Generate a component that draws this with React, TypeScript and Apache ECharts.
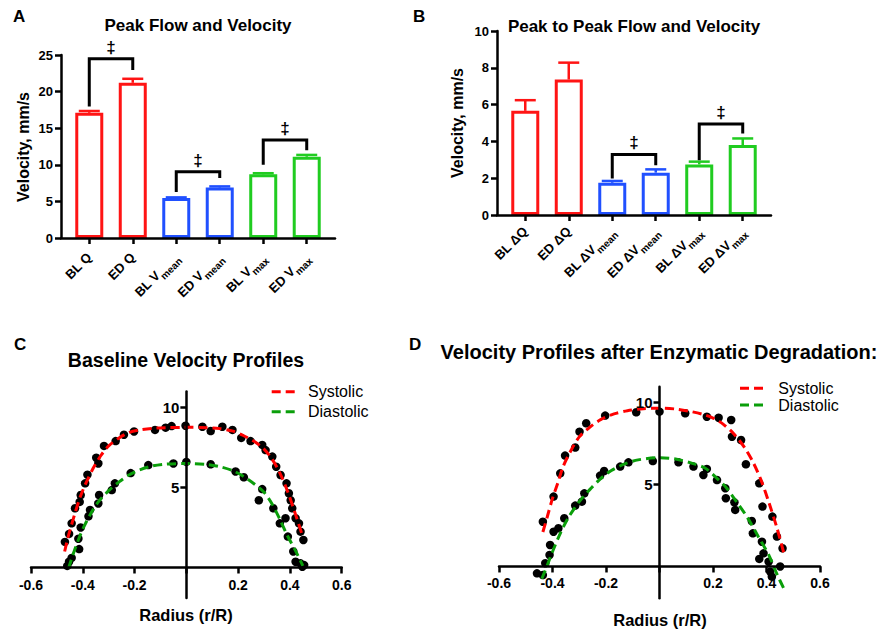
import React, { useEffect, useRef } from "react";
import * as echarts from "echarts";

const FONT = '"Liberation Sans", Arial, Helvetica, sans-serif';

// ---------- Panel A ----------
const catMainA = ["BL Q", "ED Q", "BL V", "ED V", "BL V", "ED V"];
const catSubA = ["", "", "mean", "mean", "max", "max"];
const valuesA = [17.1, 21.2, 5.45, 6.9, 8.7, 11.1];
const errTopA = [17.35, 21.75, 5.55, 7.05, 8.85, 11.35];
const bracketLeftA = [0, 2, 4];
const bracketRightA = [1, 3, 5];
const bracketLegLA = [17.96, 6.3, 10.0];
const bracketLegRA = [22.95, 8.2, 12.0];
const bracketTopA = [24.5, 9.06, 13.4];

// ---------- Panel B ----------
const catMainB = ["BL ΔQ", "ED ΔQ", "BL ΔV", "ED ΔV", "BL ΔV", "ED ΔV"];
const catSubB = ["", "", "mean", "mean", "max", "max"];
const valuesB = [5.66, 7.36, 1.75, 2.3, 2.75, 3.8];
const errTopB = [6.24, 8.28, 1.85, 2.48, 2.9, 4.16];
const bracketLeftB = [2, 4];
const bracketRightB = [3, 5];
const bracketLegLB = [1.99, 2.98];
const bracketLegRB = [2.71, 4.43];
const bracketTopB = [3.29, 4.94];

// ---------- Panel C (baseline profiles) ----------
const pointsCSys = [
  [-0.469, 1.6], [-0.453, 2.1], [-0.443, 2.76], [-0.43, 3.7], [-0.412, 4.1], [-0.408, 4.53],
  [-0.391, 5.26], [-0.382, 5.8], [-0.348, 6.86], [-0.34, 6.5], [-0.318, 7.6], [-0.273, 7.9],
  [-0.241, 8.3], [-0.202, 8.5], [-0.121, 8.6], [-0.08, 8.74], [-0.057, 8.84], [-0.003, 8.86],
  [0.062, 8.8], [0.094, 8.53], [0.139, 8.8], [0.178, 8.6], [0.212, 8.1], [0.248, 7.9],
  [0.293, 7.66], [0.306, 7.34], [0.332, 6.93], [0.347, 6.3], [0.364, 5.78], [0.387, 5.26],
  [0.396, 4.64], [0.403, 4.2], [0.409, 3.7], [0.422, 3.08], [0.435, 2.76], [0.441, 2.24], [0.452, 1.72],
];
const pointsCDia = [
  [-0.46, 0.1], [-0.453, 0.36], [-0.443, 0.6], [-0.414, 1.15], [-0.417, 1.8], [-0.408, 2.5],
  [-0.378, 3.2], [-0.372, 3.6], [-0.34, 4.0], [-0.337, 4.53], [-0.288, 4.84], [-0.276, 5.26],
  [-0.215, 5.9], [-0.147, 6.4], [-0.05, 6.5], [0.0, 6.6], [0.094, 6.45], [0.19, 6.0], [0.222, 5.64],
  [0.293, 4.9], [0.28, 4.2], [0.336, 3.7], [0.361, 2.76], [0.383, 3.08], [0.392, 1.93],
  [0.413, 1.0], [0.422, 0.36], [0.441, 0.26], [0.448, 0.05], [0.455, 0.15],
];
const fitCSys = [
  [-0.47, 1.0], [-0.46, 1.7], [-0.45, 2.3], [-0.43, 3.4], [-0.41, 4.4], [-0.39, 5.2], [-0.36, 6.2],
  [-0.33, 7.0], [-0.3, 7.6], [-0.26, 8.1], [-0.22, 8.45], [-0.18, 8.6], [-0.13, 8.7], [-0.08, 8.74],
  [0, 8.76], [0.08, 8.74], [0.13, 8.68], [0.18, 8.52], [0.22, 8.25], [0.26, 7.9], [0.3, 7.4],
  [0.33, 6.8], [0.36, 5.95], [0.39, 4.8], [0.42, 3.4], [0.45, 1.9],
];
const fitCDia = [
  [-0.455, -0.05], [-0.44, 0.7], [-0.42, 1.6], [-0.4, 2.4], [-0.37, 3.35], [-0.34, 4.1], [-0.3, 4.8],
  [-0.26, 5.35], [-0.22, 5.8], [-0.18, 6.1], [-0.13, 6.35], [-0.08, 6.46], [0, 6.5], [0.08, 6.44],
  [0.13, 6.3], [0.18, 6.05], [0.22, 5.7], [0.26, 5.25], [0.3, 4.7], [0.33, 4.0], [0.36, 3.05],
  [0.39, 2.0], [0.42, 1.1], [0.45, 0.1],
];

// ---------- Panel D (after enzymatic degradation) ----------
const pointsDSys = [
  [-0.436, 2.73], [-0.396, 4.26], [-0.371, 5.68], [-0.353, 6.76], [-0.315, 7.25], [-0.299, 8.22],
  [-0.274, 8.73], [-0.203, 9.2], [-0.087, 9.4], [0, 9.44], [0.096, 9.34], [0.177, 9.13],
  [0.221, 9.07], [0.268, 8.93], [0.271, 7.91], [0.305, 7.71], [0.323, 6.23], [0.373, 5.07],
  [0.385, 3.65], [0.422, 3.04], [0.439, 1.82], [0.46, 1.11],
];
const pointsDDia = [
  [-0.458, -0.42], [-0.436, -0.52], [-0.427, 0.2], [-0.411, 0.7], [-0.409, 1.31], [-0.396, 2.12],
  [-0.378, 2.33], [-0.356, 2.94], [-0.315, 3.71], [-0.29, 3.95], [-0.281, 4.46], [-0.222, 5.54],
  [-0.207, 5.82], [-0.147, 6.09], [-0.116, 6.35], [-0.025, 6.43], [0.071, 6.35], [0.127, 6.09],
  [0.177, 5.95], [0.164, 5.58], [0.215, 5.27], [0.246, 4.77], [0.248, 4.16], [0.28, 3.91],
  [0.283, 3.45], [0.345, 2.77], [0.349, 2.02], [0.383, 1.51], [0.389, 0.8], [0.373, 0.46],
  [0.408, 0.29], [0.414, -0.32], [0.42, -0.62], [0.451, 0.0],
];
const fitDSys = [
  [-0.436, 2.1], [-0.42, 3.0], [-0.4, 4.15], [-0.38, 5.1], [-0.36, 6.1], [-0.33, 7.1], [-0.3, 7.9],
  [-0.26, 8.5], [-0.22, 8.95], [-0.17, 9.3], [-0.12, 9.5], [-0.06, 9.62], [0, 9.65], [0.06, 9.6],
  [0.11, 9.47], [0.16, 9.28], [0.2, 9.05], [0.24, 8.65], [0.28, 8.05], [0.32, 7.2], [0.35, 6.35],
  [0.38, 5.25], [0.41, 3.85], [0.44, 2.3], [0.465, 0.8],
];
const fitDDia = [
  [-0.44, -0.75], [-0.42, 0.05], [-0.4, 0.9], [-0.37, 2.05], [-0.34, 3.0], [-0.3, 3.95], [-0.26, 4.7],
  [-0.22, 5.35], [-0.18, 5.85], [-0.13, 6.25], [-0.08, 6.5], [0, 6.63], [0.06, 6.55], [0.12, 6.3],
  [0.17, 6.0], [0.21, 5.45], [0.25, 4.8], [0.29, 3.9], [0.33, 2.95], [0.37, 1.8], [0.41, 0.65],
  [0.44, -0.5], [0.465, -1.35],
];

// ---------- styles ----------
const RED = "#ff1414";
const BLUE = "#2050ff";
const GREEN = "#20cc20";
const FIT_RED = "#ff0000";
const FIT_GREEN = "#0a9e0a";
const DASH = [9, 5];
const barColors = [RED, RED, BLUE, BLUE, GREEN, GREEN];

type Grid = { left: number; top: number; width: number; height: number };
const gridA: Grid = { left: 61, top: 55, width: 274, height: 183 };
const gridB: Grid = { left: 497, top: 31, width: 274, height: 184 };
const gridC: Grid = { left: 31, top: 391.5, width: 310.7, height: 206.4 };
const gridD: Grid = { left: 499, top: 386.7, width: 321, height: 211.6 };

function barPanel(idx: number, main: string[], sub: string[], yMax: number, yInt: number, labelMargin: number, values: number[], errTop: number[], bL: number[], bR: number[], legL: number[], legR: number[], top: number[]) {
  const xAxis = {
    gridIndex: idx,
    type: "value",
    min: -0.65,
    max: 5.65,
    z: 5,
    axisLine: { show: true, onZero: false, lineStyle: { color: "#000", width: 2.5 } },
    axisTick: { show: true, customValues: [0, 1, 2, 3, 4, 5], length: 6, lineStyle: { color: "#000", width: 2.5 } },
    splitLine: { show: false },
    axisLabel: {
      customValues: [0, 1, 2, 3, 4, 5],
      rotate: 45,
      margin: labelMargin,
      formatter: (v: number) => {
        const i = Math.round(v);
        return sub[i] ? `{m|${main[i]}}{s|${sub[i]}}` : `{m|${main[i]}}`;
      },
      rich: {
        m: { fontSize: 13, fontWeight: "bold", fontFamily: FONT, color: "#000", lineHeight: 16 },
        s: { fontSize: 10, fontWeight: "bold", fontFamily: FONT, color: "#000", verticalAlign: "bottom", lineHeight: 22 },
      },
    },
  };
  const yAxis = {
    gridIndex: idx,
    type: "value",
    min: 0,
    max: yMax,
    interval: yInt,
    z: 5,
    axisLine: { show: true, onZero: false, lineStyle: { color: "#000", width: 2.5 } },
    axisTick: { show: true, length: 6, lineStyle: { color: "#000", width: 2.5 } },
    splitLine: { show: false },
    axisLabel: { fontSize: 13, fontWeight: "bold", fontFamily: FONT, color: "#000", margin: 8 },
  };
  const series = [
    {
      type: "bar",
      xAxisIndex: idx,
      yAxisIndex: idx,
      barWidth: 28,
      z: 2,
      data: values.map((v, i) => ({ value: [i, v], itemStyle: { color: "#fff", borderColor: barColors[i], borderWidth: 3 } })),
    },
    {
      type: "custom",
      xAxisIndex: idx,
      yAxisIndex: idx,
      z: 3,
      data: values.map((v, i) => [i, v, errTop[i]]),
      renderItem: (params: any, api: any) => {
        const i = params.dataIndex;
        const x = api.value(0);
        const p0 = api.coord([x, api.value(1)]);
        const p1 = api.coord([x, api.value(2)]);
        const st = () => ({ stroke: barColors[i], lineWidth: 2.5 });
        return {
          type: "group",
          children: [
            { type: "line", shape: { x1: p0[0], y1: p0[1], x2: p1[0], y2: p1[1] }, style: st() },
            { type: "line", shape: { x1: p1[0] - 10.5, y1: p1[1], x2: p1[0] + 10.5, y2: p1[1] }, style: st() },
          ],
        };
      },
    },
    {
      type: "custom",
      xAxisIndex: idx,
      yAxisIndex: idx,
      z: 4,
      data: bL.map((l, k) => [l, bR[k], legL[k], legR[k], top[k]]),
      renderItem: (params: any, api: any) => {
        const a = api.coord([api.value(0), api.value(2)]);
        const b = api.coord([api.value(0), api.value(4)]);
        const c = api.coord([api.value(1), api.value(4)]);
        const d = api.coord([api.value(1), api.value(3)]);
        return {
          type: "group",
          children: [
            { type: "polyline", shape: { points: [a, b, c, d] }, style: { stroke: "#000", lineWidth: 3, fill: null, lineJoin: "miter" } },
            {
              type: "text",
              x: (b[0] + c[0]) / 2,
              y: b[1] - 3,
              style: { text: "‡", fontSize: 17, fontWeight: "bold", fontFamily: FONT, fill: "#000", textAlign: "center", textVerticalAlign: "bottom" },
            },
          ],
        };
      },
    },
  ];
  return { xAxis, yAxis, series };
}

function profilePanel(idx: number, g: Grid, yMin: number, yMax: number, ptsSys: number[][], ptsDia: number[][], fitSys: number[][], fitDia: number[][]) {
  const xMin = -0.6;
  const xMax = 0.6;
  // move each axis onto the other axis' zero (line, ticks and labels together)
  const xOffset = -g.height * (0 - yMin) / (yMax - yMin);
  const yOffset = -g.width * (0 - xMin) / (xMax - xMin);
  const xAxis = {
    gridIndex: idx,
    type: "value",
    min: xMin,
    max: xMax,
    position: "bottom",
    offset: xOffset,
    z: 5,
    axisLine: { show: true, onZero: false, lineStyle: { color: "#000", width: 2.5 } },
    axisTick: { show: true, customValues: [-0.6, -0.4, -0.2, 0, 0.2, 0.4, 0.6], length: 6, lineStyle: { color: "#000", width: 2.5 } },
    splitLine: { show: false },
    axisLabel: {
      customValues: [-0.6, -0.4, -0.2, 0.2, 0.4, 0.6],
      formatter: (v: number) => v.toFixed(1),
      fontSize: 14,
      fontWeight: "bold",
      fontFamily: FONT,
      color: "#000",
      margin: 10,
    },
  };
  const yAxis = {
    gridIndex: idx,
    type: "value",
    min: yMin,
    max: yMax,
    position: "left",
    offset: yOffset,
    z: 5,
    axisLine: { show: true, onZero: false, lineStyle: { color: "#000", width: 2.5 } },
    axisTick: { show: true, customValues: [5, 10], length: 6, lineStyle: { color: "#000", width: 2.5 } },
    splitLine: { show: false },
    axisLabel: { customValues: [5, 10], fontSize: 15, fontWeight: "bold", fontFamily: FONT, color: "#000", margin: 7 },
  };
  const dots = (data: number[][]) => ({
    type: "scatter",
    xAxisIndex: idx,
    yAxisIndex: idx,
    symbol: "circle",
    symbolSize: 8.5,
    z: 2,
    itemStyle: { color: "#000", opacity: 1 },
    data,
  });
  const fit = (name: string, data: number[][], color: string) => ({
    type: "line",
    name,
    xAxisIndex: idx,
    yAxisIndex: idx,
    smooth: 0.3,
    symbol: "none",
    z: 3,
    lineStyle: { color, width: 3, type: DASH },
    itemStyle: { color },
    data,
  });
  return {
    xAxis,
    yAxis,
    series: [dots(ptsSys), dots(ptsDia), fit("Systolic", fitSys, FIT_RED), fit("Diastolic", fitDia, FIT_GREEN)],
  };
}

const txt = (text: string, x: number, y: number, size: number, align = "center", bold = true, rotation = 0) => ({
  type: "text",
  x,
  y,
  rotation,
  style: {
    text,
    fontSize: size,
    fontWeight: bold ? "bold" : "normal",
    fontFamily: FONT,
    fill: "#000",
    textAlign: align,
    textVerticalAlign: "middle",
  },
});

const legendKey = (x1: number, x2: number, y: number, color: string) => ({
  type: "line",
  shape: { x1, y1: y, x2, y2: y },
  style: { stroke: color, lineWidth: 3, lineDash: DASH },
});

export default function App() {
  const ref = useRef<HTMLDivElement>(null);
  useEffect(() => {
    if (!ref.current) return;
    const chart = echarts.init(ref.current, undefined, { renderer: "svg" });
    const A = barPanel(0, catMainA, catSubA, 25, 5, 17, valuesA, errTopA, bracketLeftA, bracketRightA, bracketLegLA, bracketLegRA, bracketTopA);
    const B = barPanel(1, catMainB, catSubB, 10, 2, 14, valuesB, errTopB, bracketLeftB, bracketRightB, bracketLegLB, bracketLegRB, bracketTopB);
    const C = profilePanel(2, gridC, -1.9, 11, pointsCSys, pointsCDia, fitCSys, fitCDia);
    const D = profilePanel(3, gridD, -1.94, 10.96, pointsDSys, pointsDDia, fitDSys, fitDDia);
    chart.setOption({
      animation: false,
      backgroundColor: "#fff",
      grid: [gridA, gridB, gridC, gridD],
      xAxis: [A.xAxis, B.xAxis, C.xAxis, D.xAxis],
      yAxis: [A.yAxis, B.yAxis, C.yAxis, D.yAxis],
      series: [...A.series, ...B.series, ...C.series, ...D.series],
      graphic: [
        txt("A", 13, 16, 17, "left"),
        txt("Peak Flow and Velocity", 198, 25, 17),
        txt("Velocity, mm/s", 23, 147, 16, "center", true, Math.PI / 2),
        txt("B", 413, 16, 17, "left"),
        txt("Peak to Peak Flow and Velocity", 634, 26, 17),
        txt("Velocity, mm/s", 457, 123, 16, "center", true, Math.PI / 2),
        txt("C", 14, 344, 17, "left"),
        txt("Baseline Velocity Profiles", 186, 360, 19.5),
        txt("Radius (r/R)", 186, 615, 16.5),
        txt("D", 409, 344, 17, "left"),
        txt("Velocity Profiles after Enzymatic Degradation:", 659, 352, 20),
        txt("Radius (r/R)", 660, 620, 16.5),
        legendKey(271.7, 298.3, 391.7, FIT_RED),
        legendKey(271.7, 298.3, 411.7, FIT_GREEN),
        txt("Systolic", 308, 391.7, 16, "left", false),
        txt("Diastolic", 308, 411.7, 16, "left", false),
        legendKey(740, 766.7, 388.3, FIT_RED),
        legendKey(740, 766.7, 405, FIT_GREEN),
        txt("Systolic", 778.3, 388.3, 16, "left", false),
        txt("Diastolic", 778.3, 405, 16, "left", false),
      ],
    });
    return () => chart.dispose();
  }, []);
  return <div ref={ref} style={{ position: "absolute", left: 0, top: 0, width: 882, height: 632 }} />;
}
